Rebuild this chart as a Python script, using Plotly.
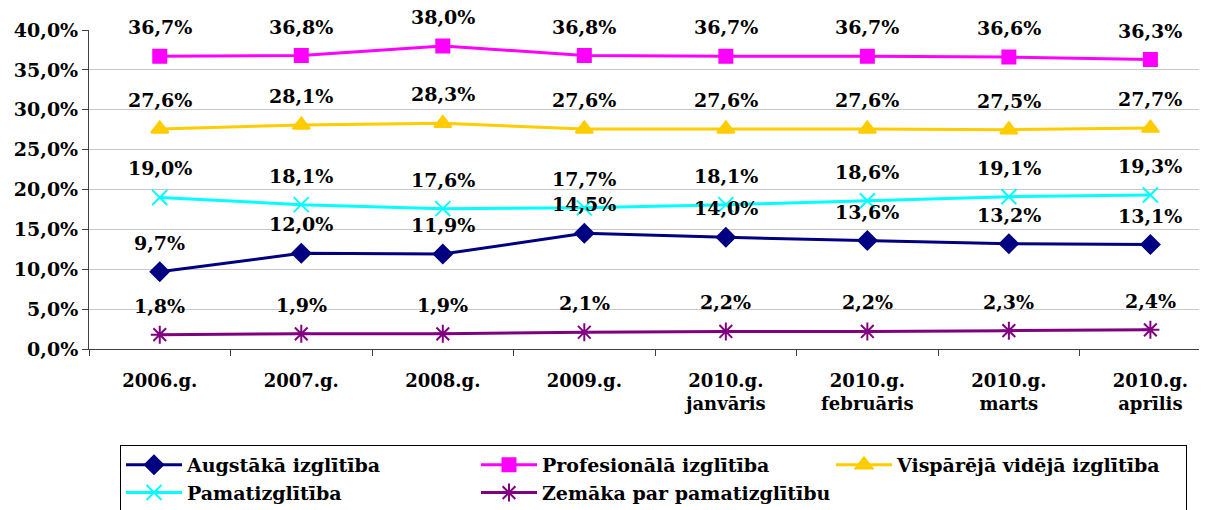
import plotly.graph_objects as go

categories = ["2006.g.", "2007.g.", "2008.g.", "2009.g.", "2010.g.<br>janvāris",
              "2010.g.<br>februāris", "2010.g.<br>marts", "2010.g.<br>aprīlis"]

augstaka = [9.7, 12.0, 11.9, 14.5, 14.0, 13.6, 13.2, 13.1]
profesionala = [36.7, 36.8, 38.0, 36.8, 36.7, 36.7, 36.6, 36.3]
visparejā = [27.6, 28.1, 28.3, 27.6, 27.6, 27.6, 27.5, 27.7]
pamat = [19.0, 18.1, 17.6, 17.7, 18.1, 18.6, 19.1, 19.3]
zemaka = [1.8, 1.9, 1.9, 2.1, 2.2, 2.2, 2.3, 2.4]

series_names = ["Augstākā izglītība", "Profesionālā izglītība", "Vispārējā vidējā izglītība",
                "Pamatizglītība", "Zemāka par pamatizglītību"]
series_values = [augstaka, profesionala, visparejā, pamat, zemaka]
colors = ["#000080", "#FF00FF", "#FFCC00", "#00FFFF", "#800080"]
symbols = ["diamond", "square", "triangle-up", "x-thin-open", "asterisk-open"]
sizes = [14, 13, 15, 15, 15]

FONT = "DejaVu Serif"

fig = go.Figure()
annotations = []
for name, vals, col, sym, sz in zip(series_names, series_values, colors, symbols, sizes):
    fig.add_trace(go.Scatter(
        x=categories, y=vals, mode="lines+markers", name=name,
        line=dict(color=col, width=3),
        marker=dict(symbol=sym, size=sz, color=col, line=dict(color=col, width=2)),
        hoverinfo="skip",
    ))
    for c, v in zip(categories, vals):
        annotations.append(dict(
            x=c, y=v, xref="x", yref="y", text="<b>" + f"{v:.1f}%".replace(".", ",") + "</b>",
            showarrow=False, yshift=29,
            font=dict(family=FONT, size=19, color="black"),
        ))

fig.update_layout(
    width=1199, height=502,
    margin=dict(l=81, r=0, t=22, b=161, autoexpand=False),
    paper_bgcolor="white", plot_bgcolor="white",
    separators=", ",
    font=dict(family=FONT, color="black"),
    annotations=annotations,
    showlegend=True,
    legend=dict(
        orientation="h", x=(120 - 89) / 1118, y=(349 - 445) / 319,
        xanchor="left", yanchor="top",
        bordercolor="black", borderwidth=1, bgcolor="white",
        itemwidth=56,
        entrywidth=284, entrywidthmode="pixels",
        font=dict(family=FONT, size=19, color="black", weight="bold"),
        tracegroupgap=0,
    ),
)
fig.update_xaxes(
    type="category", range=[-0.5, 7.4], tickson="boundaries",
    ticks="outside", ticklen=6, tickcolor="#404040",
    showline=True, linecolor="#404040", linewidth=1,
    showgrid=False, ticklabelstandoff=15,
    tickfont=dict(family=FONT, size=18, color="black", weight="bold"),
)
fig.update_yaxes(
    range=[0, 40], dtick=5, tickformat=".1f", ticksuffix="%",
    ticks="outside", ticklen=6, tickcolor="#404040",
    showline=True, linecolor="#404040", linewidth=1,
    showgrid=True, gridcolor="#C8C8C8", gridwidth=1,
    zeroline=False,
    tickfont=dict(family=FONT, size=19, color="black", weight="bold"),
)

fig.write_html("out.html")
